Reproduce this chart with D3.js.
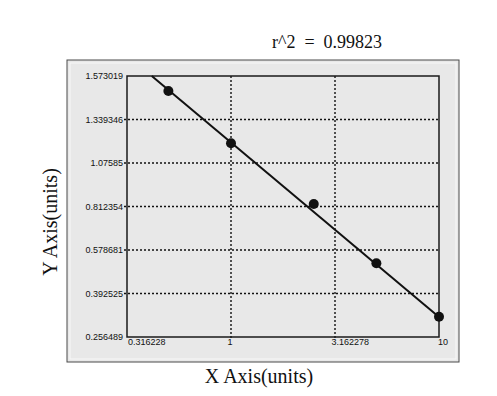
<!DOCTYPE html>
<html><head><meta charset="utf-8">
<script src="https://cdn.jsdelivr.net/npm/d3@7"></script>
<style>body{margin:0;background:#fff}svg{display:block}</style>
</head><body>
<script>
const xTicks = [0.316228, 1, 3.162278, 10];
const xTickLabels = ["0.316228", "1", "3.162278", "10"];
const yTicks = [0.256489, 0.392525, 0.578681, 0.812354, 1.07585, 1.339346, 1.573019];
const yTickLabels = ["0.256489", "0.392525", "0.578681", "0.812354", "1.07585", "1.339346", "1.573019"];
const xValues = [0.5, 1, 2.5, 5, 10];
const yValues = [1.492, 1.195, 0.827, 0.522, 0.320];
const fitX = [0.416, 10];
const fitY = [1.573019, 0.319];
const rSquared = "0.99823";

const W = 497, H = 396;
const svg = d3.select("body").append("svg").attr("width", W).attr("height", H);

// outer panel
svg.append("rect").attr("x", 67).attr("y", 60).attr("width", 392).attr("height", 302)
  .attr("fill", "#e8e8e8").attr("stroke", "#4a4a4a").attr("stroke-width", 1);
svg.append("rect").attr("x", 70).attr("y", 63).attr("width", 386).attr("height", 296)
  .attr("fill", "none").attr("stroke", "#f8f8f8").attr("stroke-width", 1);

const L = 127, R = 439, T = 76, B = 337;
const x = d3.scaleLog().domain([0.316228, 10]).range([L, R]);
const y = d3.scaleLinear().domain(yTicks).range(yTicks.map((d, i) => B - i * (B - T) / (yTicks.length - 1)));

// gridlines
const grid = svg.append("g").attr("stroke", "#111").attr("stroke-width", 1.4).attr("stroke-dasharray", "2,2");
grid.selectAll("line.h").data(yTicks.slice(1, -1)).join("line")
  .attr("x1", L - 3).attr("x2", R).attr("y1", d => y(d)).attr("y2", d => y(d));
grid.selectAll("line.v").data(xTicks.slice(1, -1)).join("line")
  .attr("y1", T).attr("y2", B + 3).attr("x1", d => x(d)).attr("x2", d => x(d));

// axes labels via d3 axes
const yAxis = svg.append("g").attr("transform", `translate(${L},0)`)
  .call(d3.axisLeft(y).tickValues(yTicks).tickSize(0).tickPadding(4)
    .tickFormat((d, i) => yTickLabels[i]));
yAxis.select(".domain").remove();
yAxis.selectAll("text").attr("font-family", "'Liberation Sans', Arial, sans-serif")
  .attr("font-size", 9).attr("fill", "#111");

const xAxis = svg.append("g").attr("transform", `translate(0,${B})`)
  .call(d3.axisBottom(x).tickValues(xTicks).tickSize(0).tickPadding(2)
    .tickFormat((d, i) => xTickLabels[i]));
xAxis.select(".domain").remove();
xAxis.selectAll("text").attr("font-family", "'Liberation Sans', Arial, sans-serif")
  .attr("font-size", 9).attr("fill", "#111").attr("text-anchor", "start")
  .attr("dx", (d, i) => i === 0 ? 0.5 : (i === xTicks.length - 1 ? -1.5 : -4));

// plot frame
svg.append("rect").attr("x", L).attr("y", T).attr("width", R - L).attr("height", B - T)
  .attr("fill", "none").attr("stroke", "#1a1a1a").attr("stroke-width", 1.5);

// fit line
svg.append("line")
  .attr("x1", x(fitX[0])).attr("y1", y(fitY[0]))
  .attr("x2", x(fitX[1])).attr("y2", y(fitY[1]))
  .attr("stroke", "#111").attr("stroke-width", 2);

// points
svg.selectAll("circle.pt").data(xValues).join("circle")
  .attr("cx", d => x(d)).attr("cy", (d, i) => y(yValues[i])).attr("r", 5)
  .attr("fill", "#111");

// title
svg.append("text").attr("x", 272).attr("y", 48)
  .attr("font-family", "'Liberation Serif', 'Times New Roman', serif").attr("font-size", 18)
  .style("white-space", "pre").attr("fill", "#111")
  .text("r^2  =  " + rSquared);

svg.append("text").attr("x", 259).attr("y", 383).attr("text-anchor", "middle")
  .attr("font-family", "'Liberation Serif', 'Times New Roman', serif").attr("font-size", 20)
  .attr("fill", "#111").text("X Axis(units)");

svg.append("text").attr("transform", "translate(57,222) rotate(-90)").attr("text-anchor", "middle")
  .attr("font-family", "'Liberation Serif', 'Times New Roman', serif").attr("font-size", 20)
  .attr("fill", "#111").text("Y Axis(units)");
</script>
</body></html>
